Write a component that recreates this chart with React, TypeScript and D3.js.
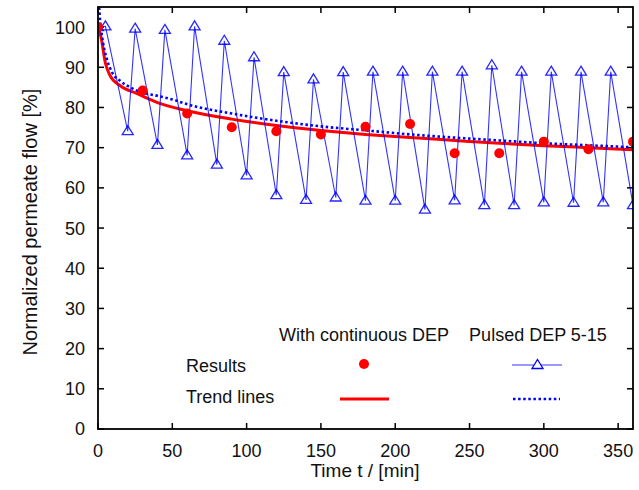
import React from "react";
import * as d3 from "d3";

const contTimes = [0, 30, 60, 90, 120, 150, 180, 210, 240, 270, 300, 330, 360];
const contValues = [100, 84.2, 78.5, 75.1, 74.1, 73.3, 75.2, 75.9, 68.6, 68.6, 71.5, 69.6, 71.5];

const pulsedTimes = [0, 5, 20, 25, 40, 45, 60, 65, 80, 85, 100, 105, 120, 125, 140, 145, 160, 165, 180, 185, 200, 205, 220, 225, 240, 245, 260, 265, 280, 285, 300, 305, 320, 325, 340, 345, 360];
const pulsedValues = [100, 100.2, 74.1, 99.6, 70.7, 99.3, 68.1, 100.2, 65.8, 96.6, 63.1, 92.5, 58.2, 88.8, 57, 87, 57.6, 88.8, 56.8, 88.9, 56.8, 88.9, 54.6, 88.9, 56.9, 88.9, 55.7, 90.5, 55.7, 88.9, 56.4, 88.9, 56.3, 88.9, 56.4, 88.9, 55.7];

const trendContTimes = [0, 2, 5, 8, 15, 26, 40, 60, 90, 120, 150, 180, 210, 240, 270, 300, 330, 360];
const trendContValues = [100, 97.5, 91, 88, 85.4, 83.5, 81.2, 79.2, 77.1, 75.5, 74.3, 73.3, 72.5, 71.8, 71.1, 70.5, 70, 69.5];

const trendPulsedTimes = [0, 1, 3.4, 6, 9.5, 15, 21.6, 30, 40, 50, 60, 90, 120, 150, 180, 210, 240, 270, 300, 330, 360];
const trendPulsedValues = [110, 103.6, 96.1, 92, 88.7, 86.6, 85, 83.7, 82.9, 82, 80.8, 78.5, 76.7, 75.3, 74.3, 73.3, 72.5, 71.8, 71.1, 70.6, 70.1];

const xTicks = [0, 50, 100, 150, 200, 250, 300, 350];
const yTicks = [0, 10, 20, 30, 40, 50, 60, 70, 80, 90, 100];

const legendHeaders = ["With continuous DEP", "Pulsed DEP 5-15"];
const legendRows = ["Results", "Trend lines"];

const RED = "#ff0000";
const BLUE = "#0000ff";
const FONT = "'Liberation Sans', Arial, sans-serif";

const L = 98, R = 633, T = 7, B = 429;

const tri = (cx: number, cy: number) =>
  `M${cx},${cy - 5.5} L${cx + 5.5},${cy + 3.5} L${cx - 5.5},${cy + 3.5} Z`;

export default function App() {
  const x = d3.scaleLinear().domain([0, 360]).range([L, R]);
  const y = d3.scaleLinear().domain([0, 105]).range([B, T]);

  const line = d3
    .line<[number, number]>()
    .x((d) => x(d[0]))
    .y((d) => y(d[1]));
  const smooth = d3
    .line<[number, number]>()
    .x((d) => x(d[0]))
    .y((d) => y(d[1]))
    .curve(d3.curveMonotoneX);

  const pulsed: [number, number][] = pulsedTimes.map((t, i) => [t, pulsedValues[i]]);
  const trendC: [number, number][] = trendContTimes.map((t, i) => [t, trendContValues[i]]);
  const trendP: [number, number][] = trendPulsedTimes.map((t, i) => [t, trendPulsedValues[i]]);

  return (
    <svg width={639} height={490} style={{ position: "absolute", left: 0, top: 0, background: "#fff" }} fontFamily={FONT}>
      <defs>
        <clipPath id="plot">
          <rect x={L} y={T} width={R - L} height={B - T} />
        </clipPath>
      </defs>
      <rect x={0} y={0} width={639} height={490} fill="#fff" />

      {/* ticks */}
      {xTicks.map((t) => (
        <g key={"x" + t}>
          <line x1={x(t)} x2={x(t)} y1={B} y2={B - 6} stroke="#000" strokeWidth={1.5} />
          <line x1={x(t)} x2={x(t)} y1={T} y2={T + 6} stroke="#000" strokeWidth={1.5} />
          <text x={x(t)} y={457} fontSize={18} textAnchor="middle" fill="#111">{t}</text>
        </g>
      ))}
      {yTicks.map((v) => (
        <g key={"y" + v}>
          <line x1={L} x2={L + 6} y1={y(v)} y2={y(v)} stroke="#000" strokeWidth={1.5} />
          <line x1={R} x2={R - 6} y1={y(v)} y2={y(v)} stroke="#000" strokeWidth={1.5} />
          <text x={85} y={y(v)} dy="0.36em" fontSize={18} textAnchor="end" fill="#111">{v}</text>
        </g>
      ))}

      <g clipPath="url(#plot)">
        <path d={smooth(trendC) || ""} fill="none" stroke={RED} strokeWidth={3} />
        <path d={smooth(trendP) || ""} fill="none" stroke={BLUE} strokeWidth={2.6} strokeDasharray="2.5 2.6" />
        <path d={line(pulsed) || ""} fill="none" stroke={BLUE} strokeOpacity={0.8} strokeWidth={1.1} />
        {pulsed.map((d, i) => (
          <path key={"t" + i} d={tri(x(d[0]), y(d[1]))} fill="none" stroke={BLUE} strokeOpacity={0.85} strokeWidth={1.3} />
        ))}
        {contTimes.map((t, i) => (
          <circle key={"c" + i} cx={x(t)} cy={y(contValues[i])} r={5} fill={RED} />
        ))}
      </g>

      {/* frame */}
      <rect x={L} y={T} width={R - L} height={B - T} fill="none" stroke="#000" strokeWidth={1.8} />

      {/* legend */}
      <text x={364} y={341} fontSize={18} textAnchor="middle" fill="#111">{legendHeaders[0]}</text>
      <text x={538} y={341} fontSize={18} textAnchor="middle" fill="#111">{legendHeaders[1]}</text>
      <text x={186} y={372} fontSize={18} fill="#111">{legendRows[0]}</text>
      <text x={186} y={403} fontSize={18} fill="#111">{legendRows[1]}</text>
      <circle cx={364} cy={364} r={5} fill={RED} />
      <line x1={512} x2={562} y1={365} y2={365} stroke={BLUE} strokeOpacity={0.8} strokeWidth={1.2} />
      <path d={tri(537.5, 365)} fill="#fff" stroke={BLUE} strokeWidth={1.3} />
      <line x1={340} x2={389} y1={399} y2={399} stroke={RED} strokeWidth={3} />
      <line x1={513} x2={560} y1={399} y2={399} stroke={BLUE} strokeWidth={2.6} strokeDasharray="2.5 2.6" />

      {/* axis titles */}
      <text x={365} y={477} fontSize={19} textAnchor="middle" fill="#111">Time t / [min]</text>
      <text transform="translate(37,222) rotate(-90)" fontSize={20} textAnchor="middle" fill="#111">
        Normalized permeate flow [%]
      </text>
    </svg>
  );
}
